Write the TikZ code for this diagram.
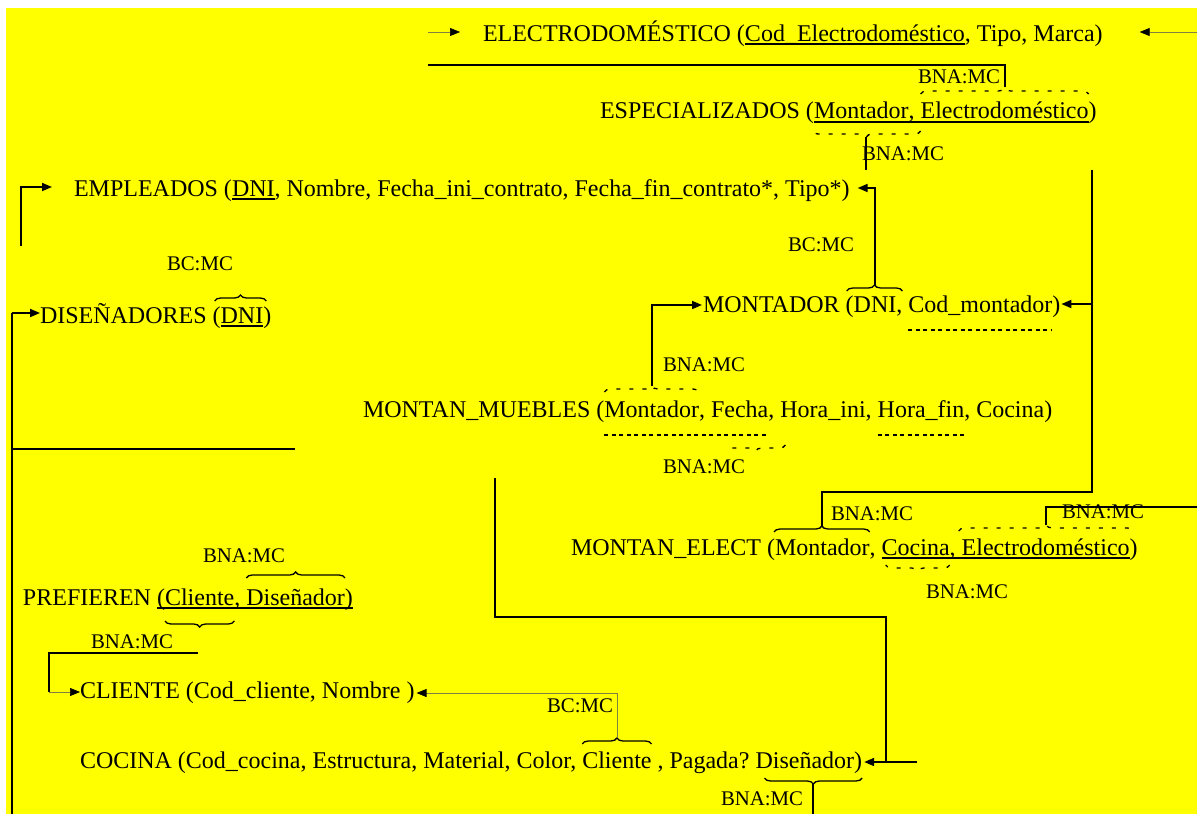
\documentclass[tikz,border=0pt]{standalone}
\usepackage{fontspec}
\setmainfont{Liberation Serif}
\usetikzlibrary{arrows.meta,decorations.pathreplacing,calc}
\definecolor{bgyellow}{RGB}{255,255,0}
\definecolor{fineline}{RGB}{128,128,64}
\newcommand\mainfs{\fontsize{24}{28}\selectfont}
\newcommand\lblfs{\fontsize{20.8}{24}\selectfont}
\begin{document}
\begin{tikzpicture}[x=1pt,y=-1pt,
  txt/.style={inner sep=0pt,outer sep=0pt,anchor=base west,font=\mainfs},
  lbl/.style={inner sep=0pt,outer sep=0pt,anchor=base west,font=\lblfs},
  conn/.style={line width=1.8pt},
  fine/.style={line width=0.7pt,fineline},
  arr/.style={-{Triangle[length=10pt,width=8pt,color=black]}},
  ul/.style={line width=1.6pt},
  dul/.style={line width=1.3pt,dash pattern=on 4pt off 3.5pt},
  br/.style={decorate,decoration={brace,amplitude=6pt},line width=1.3pt},
  dbr/.style={br,dash pattern=on 4pt off 9pt},
]
\useasboundingbox (0,0) rectangle (1197,814);
\fill[white] (0,0) rectangle (1197,814);
\fill[bgyellow] (6,8) rectangle (1197,814);

% ---------- ELECTRODOMESTICO
\node[txt] (e1) at (483,41) {ELECTRODOMÉSTICO (};
\node[txt] (e2) at (e1.base east) {Cod\_Electrodoméstico};
\node[txt] (e3) at (e2.base east) {, Tipo, Marca)};
\draw[ul] ($(e2.base west)+(0,3)$) -- ($(e2.base east)+(0,3)$);
\coordinate (eArrL) at (428,32);
\coordinate (eArrR) at (1197,32);
\draw[fine,arr] (eArrL) -- ($(e1.base west)+(-23,-9)$);
\draw[fine,arr] (eArrR) -- ($(e3.base east)+(37,-9)$);

% ---------- ESPECIALIZADOS
\node[txt] (s1) at (600,118) {ESPECIALIZADOS (};
\node[txt] (s2) at (s1.base east) {Montador};
\node[txt] (s3) at (s2.base east) {,\ \mbox{}};
\node[txt] (s4) at (s3.base east) {Electrodoméstico};
\node[txt] (s5) at (s4.base east) {)};
\draw[ul] ($(s2.base west)+(0,4)$) -- ($(s4.base east)+(0,4)$);
\draw[dbr] ($(s4.base west)+(0,-24)$) -- ($(s4.base east)+(0,-24)$);
\coordinate (tES) at ($(s4.base west)!0.5!(s4.base east)+(0,-31)$);
\draw[dbr] ($(s3.base east)+(0,13)$) -- ($(s2.base west)+(-2,13)$);
\coordinate (tESm) at ($(s2.base west)!0.5!(s3.base east)+(-1,19)$);
\coordinate (eLine) at (428,65);
\draw[conn] (eLine) -| (tES);
\draw[conn] (tESm) -- ++(0,33);
\node[lbl] (l1) at (918,83) {BNA:MC};
\node[lbl] (l2) at (862,160) {BNA:MC};

% ---------- EMPLEADOS
\node[txt] (m1) at (74,196) {EMPLEADOS (};
\node[txt] (m2) at (m1.base east) {DNI};
\node[txt] (m3) at (m2.base east) {, Nombre, Fecha\_ini\_contrato, Fecha\_fin\_contrato*, Tipo*)};
\draw[ul] ($(m2.base west)+(0,3)$) -- ($(m2.base east)+(0,3)$);
\coordinate (mL) at (21,246);
\draw[conn,arr] (mL) |- ($(m1.base west)+(-22,-9)$);
\node[lbl] (l3) at (788,251) {BC:MC};
\node[lbl] (l4) at (167,270) {BC:MC};

% ---------- DISENADORES
\node[txt] (d1) at (40,323) {DISEÑADORES (};
\node[txt] (d2) at (d1.base east) {DNI};
\node[txt] (d3) at (d2.base east) {)};
\draw[ul] ($(d2.base west)+(0,3)$) -- ($(d2.base east)+(0,3)$);
\draw[br] ($(d2.base west)+(-6,-22)$) -- ($(d2.base east)+(3,-22)$);
\coordinate (L1) at (12,313);
\coordinate (Lbot) at (12,814);
\coordinate (L2) at (12,449);
\coordinate (L2e) at (295,449);
\draw[conn,arr] (L1) -- ($(d1.base west)+(0,-10)$);
\draw[conn] (L1) -- (Lbot);
\draw[conn] (L2) -- (L2e);

% ---------- MONTADOR
\node[txt] (o1) at (703,312) {MONTADOR (};
\node[txt] (o2) at (o1.base east) {DNI};
\node[txt] (o3) at (o2.base east) {,\ \mbox{}};
\node[txt] (o4) at (o3.base east) {Cod\_montador};
\node[txt] (o5) at (o4.base east) {)};
\draw[br] ($(o2.base west)+(-7,-21)$) -- ($(o2.base east)+(6,-21)$);
\coordinate (tMO) at ($(o2.base west)!0.5!(o2.base east)+(0,-27)$);
\draw[dul] ($(o4.base west)+(0,18)$) -- ($(o4.base east)+(0,18)$);
\draw[conn,arr] (tMO) |- ($(m3.base east)+(8,-8)$);

% ---------- MONTAN_MUEBLES
\node[txt] (u1) at (363,417) {MONTAN\_MUEBLES (};
\node[txt] (u2) at (u1.base east) {Montador};
\node[txt] (u3) at (u2.base east) {,\ \mbox{}};
\node[txt] (u4) at (u3.base east) {Fecha};
\node[txt] (u5) at (u4.base east) {, Hora\_ini,\ \mbox{}};
\node[txt] (u6) at (u5.base east) {Hora\_fin};
\node[txt] (u7) at (u6.base east) {, Cocina)};
\draw[dbr] ($(u2.base west)+(0,-25)$) -- ($(u2.base east)+(0,-25)$);
\coordinate (tMM) at ($(u2.base west)!0.5!(u2.base east)+(0,-31)$);
\draw[dul] ($(u2.base west)+(0,18)$) -- ($(u4.base east)+(0,18)$);
\draw[dul] ($(u6.base west)+(0,18)$) -- ($(u6.base east)+(0,18)$);
\draw[dbr] ($(u4.base east)+(17,28)$) -- ($(u4.base west)+(15,28)$);
\draw[conn,arr] (tMM) |- ($(o1.base west)+(-1,-7)$);
\node[lbl] (l5) at (663,371) {BNA:MC};
\node[lbl] (l6) at (663,473) {BNA:MC};

% ---------- MONTAN_ELECT
\node[txt] (a1) at (571,555) {MONTAN\_ELECT (};
\node[txt] (a2) at (a1.base east) {Montador};
\node[txt] (a3) at (a2.base east) {,\ \mbox{}};
\node[txt] (a4) at (a3.base east) {Cocina};
\node[txt] (a5) at (a4.base east) {,\ \mbox{}};
\node[txt] (a6) at (a5.base east) {Electrodoméstico};
\node[txt] (a7) at (a6.base east) {)};
\draw[ul] ($(a4.base west)+(0,3)$) -- ($(a6.base east)+(0,3)$);
\draw[br] ($(a2.base west)+(-1,-23)$) -- ($(a2.base east)+(0,-23)$);
\coordinate (tAM) at ($(a2.base west)!0.5!(a2.base east)+(0,-29)$);
\draw[dbr] ($(a6.base west)+(-3,-24)$) -- ($(a6.base east)+(4,-24)$);
\coordinate (tAE) at ($(a6.base west)!0.5!(a6.base east)+(0,-30)$);
\draw[dbr] ($(a4.base east)+(0,10)$) -- ($(a4.base west)+(4,10)$);
\coordinate (aR) at (1197,507);
\draw[conn] (tAE) |- (aR);
\node[lbl] (l7) at (831,520) {BNA:MC};
\node[lbl] (l8) at (1062,518) {BNA:MC};
\node[lbl] (l9) at (926,598) {BNA:MC};

% right long connector
\coordinate (rTop) at (1092,170);
\coordinate (rBot) at (1092,492);
\coordinate (rMo) at (1092,304);
\draw[conn] (rTop) -- (rBot) -| (tAM);
\draw[conn,arr] (rMo) -- ($(o5.base east)+(1,-8)$);

% ---------- PREFIEREN
\node[txt] (p1) at (23,605) {PREFIEREN\ \mbox{}};
\node[txt] (p2) at (p1.base east) {(};
\node[txt] (p3) at (p2.base east) {Cliente};
\node[txt] (p4) at (p3.base east) {,\ \mbox{}};
\node[txt] (p5) at (p4.base east) {Diseñador};
\node[txt] (p6) at (p5.base east) {)};
\draw[ul] ($(p2.base west)+(0,3)$) -- ($(p6.base east)+(0,3)$);
\draw[br] ($(p5.base west)+(0,-27)$) -- ($(p5.base east)+(0,-27)$);
\draw[br] ($(p3.base east)+(0,16)$) -- ($(p3.base west)+(0,16)$);
\node[lbl] (l10) at (203,562) {BNA:MC};
\node[lbl] (l11) at (91,648) {BNA:MC};

% ---------- CLIENTE
\node[txt] (c1) at (80,698) {CLIENTE (Cod\_cliente, Nombre )};
\coordinate (pA) at (198,653);
\coordinate (pB) at (49,692);
\draw[conn] (pA) -| (pB);
\draw[fine,arr] (pB) -- ($(c1.base west)+(0,-6)$);
\node[lbl] (l12) at (547,712) {BC:MC};

% ---------- COCINA
\node[txt] (k1) at (80,768) {COCINA (Cod\_cocina, Estructura, Material, Color,\ \mbox{}};
\node[txt] (k2) at (k1.base east) {Cliente};
\node[txt] (k3) at (k2.base east) {\ , Pagada?\ \mbox{}};
\node[txt] (k4) at (k3.base east) {Diseñador)};
\draw[br] ($(k2.base west)+(0,-24)$) -- ($(k2.base east)+(0,-24)$);
\coordinate (tKC) at ($(k2.base west)!0.5!(k2.base east)+(0,-30)$);
\draw[br] ($(k4.base east)+(0,10)$) -- ($(k4.base west)+(9,10)$);
\coordinate (tKD) at ($(k4.base west)!0.5!(k4.base east)+(4,16)$);
\draw[conn] (tKD) -- (tKD |- Lbot);
\draw[fine,arr] (tKC) |- ($(c1.base east)+(2,-5)$);
\node[lbl] (l13) at (721,805) {BNA:MC};
\coordinate (V1) at (495,478);
\coordinate (V1b) at (886,617);
\coordinate (kJ) at (886,762);
\coordinate (kR) at (917,762);
\draw[conn] (V1) |- (V1b) -- (kJ);
\draw[conn,arr] (kR) -- ($(k4.base east)+(2,-6)$);
\end{tikzpicture}
\end{document}
